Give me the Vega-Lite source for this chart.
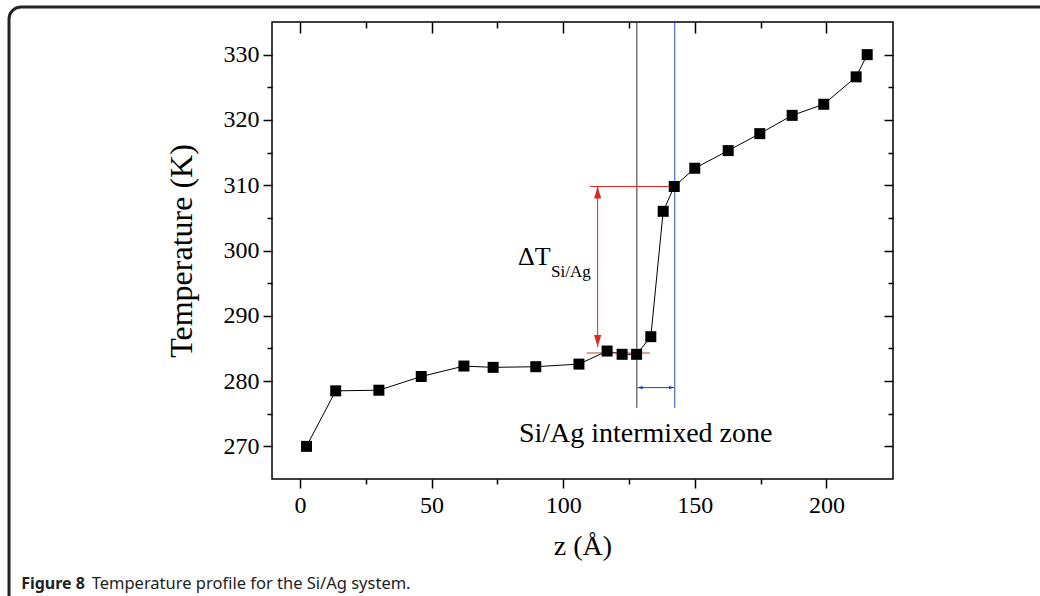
{
  "$schema": "https://vega.github.io/schema/vega-lite/v6.json",
  "width": 621,
  "height": 457,
  "autosize": {"type": "none"},
  "padding": {"left": 272, "top": 22, "right": 147, "bottom": 117},
  "background": "white",
  "data": {"values": [{"note": "annotation"}]},
  "config": {
    "view": {"stroke": "black", "strokeWidth": 1.5},
    "axis": {
      "grid": false,
      "domain": false,
      "tickColor": "black",
      "tickWidth": 1.5,
      "labelFont": "Liberation Serif",
      "labelFontSize": 24,
      "labelColor": "black",
      "titleFont": "Liberation Serif",
      "titleFontWeight": "normal",
      "titleColor": "black"
    },
    "text": {"font": "Liberation Serif", "color": "black"}
  },
  "datasets": {
    "profile": [
      {"z": 2.5, "T": 270.0},
      {"z": 13.6, "T": 278.5},
      {"z": 30.0, "T": 278.6},
      {"z": 46.1, "T": 280.7},
      {"z": 62.3, "T": 282.3},
      {"z": 73.4, "T": 282.1},
      {"z": 89.6, "T": 282.2},
      {"z": 106.0, "T": 282.6},
      {"z": 116.7, "T": 284.6},
      {"z": 122.4, "T": 284.1},
      {"z": 127.9, "T": 284.1},
      {"z": 133.3, "T": 286.8},
      {"z": 138.0, "T": 306.0},
      {"z": 142.2, "T": 309.8},
      {"z": 150.0, "T": 312.6},
      {"z": 162.7, "T": 315.3},
      {"z": 174.7, "T": 317.9},
      {"z": 187.0, "T": 320.7},
      {"z": 199.0, "T": 322.4},
      {"z": 211.3, "T": 326.6},
      {"z": 215.5, "T": 330.0}
    ]
  },
  "resolve": {"axis": {"x": "independent", "y": "independent"}},
  "layer": [
    {
      "mark": {"type": "rect", "filled": false, "fill": null, "stroke": "#222222", "strokeWidth": 3, "cornerRadius": 12, "clip": false},
      "encoding": {
        "x": {"datum": -110.5, "type": "quantitative", "axis": null},
        "x2": {"datum": 290},
        "y": {"datum": 337.3, "type": "quantitative", "axis": null},
        "y2": {"datum": 240}
      }
    },
    {
      "data": {"name": "profile"},
      "mark": {"type": "line", "color": "black", "strokeWidth": 1},
      "encoding": {
        "x": {
          "field": "z", "type": "quantitative",
          "scale": {"domain": [-10.6, 225.3], "nice": false, "zero": false},
          "axis": {"orient": "bottom", "values": [0, 50, 100, 150, 200], "tickSize": 9, "labelPadding": 5, "title": "z (Å)", "titleFontSize": 28, "titlePadding": 15}
        },
        "y": {
          "field": "T", "type": "quantitative",
          "scale": {"domain": [265, 335], "nice": false, "zero": false},
          "axis": {"orient": "left", "values": [270, 280, 290, 300, 310, 320, 330], "tickSize": 9, "labelPadding": 4, "title": "Temperature (K)", "titleFontSize": 32, "titlePadding": 25}
        }
      }
    },
    {
      "mark": {"type": "rule", "color": "#333333", "strokeWidth": 1},
      "encoding": {
        "x": {"datum": 128.0, "type": "quantitative", "axis": {"orient": "bottom", "values": [25, 75, 125, 175], "tickSize": 5, "labels": false, "title": null}},
        "y": {"datum": 335, "type": "quantitative", "axis": {"orient": "left", "values": [275, 285, 295, 305, 315, 325], "tickSize": 5, "labels": false, "title": null}},
        "y2": {"datum": 275.9}
      }
    },
    {
      "mark": {"type": "rule", "color": "#3344cc", "strokeWidth": 1},
      "encoding": {
        "x": {"datum": 142.4, "type": "quantitative", "axis": {"orient": "top", "values": [25, 75, 125, 175], "tickSize": -6, "labels": false, "title": null}},
        "y": {"datum": 335, "type": "quantitative", "axis": {"orient": "right", "values": [275, 285, 295, 305, 315, 325], "tickSize": -5, "labels": false, "title": null}},
        "y2": {"datum": 275.9}
      }
    },
    {
      "mark": {"type": "rule", "color": "#e02424", "strokeWidth": 1},
      "encoding": {
        "x": {"datum": 110.1, "type": "quantitative", "axis": {"orient": "top", "values": [0, 50, 100, 150, 200], "tickSize": -11, "labels": false, "title": null}},
        "x2": {"datum": 142.4},
        "y": {"datum": 309.8, "type": "quantitative", "axis": {"orient": "right", "values": [270, 280, 290, 300, 310, 320, 330], "tickSize": -9, "labels": false, "title": null}}
      }
    },
    {
      "mark": {"type": "rule", "color": "#e02424", "strokeWidth": 1},
      "encoding": {
        "x": {"datum": 113.1, "type": "quantitative", "axis": null},
        "y": {"datum": 309.8, "type": "quantitative", "axis": null},
        "y2": {"datum": 285.2}
      }
    },
    {
      "mark": {"type": "point", "filled": true, "color": "#e02424", "opacity": 1, "shape": "M0,0L0.6,2L-0.6,2Z", "size": 144, "strokeWidth": 0},
      "encoding": {
        "x": {"datum": 113.1, "type": "quantitative", "axis": null},
        "y": {"datum": 309.8, "type": "quantitative", "axis": null}
      }
    },
    {
      "mark": {"type": "point", "filled": true, "color": "#e02424", "opacity": 1, "shape": "M0,0L0.6,-2L-0.6,-2Z", "size": 144, "strokeWidth": 0},
      "encoding": {
        "x": {"datum": 113.1, "type": "quantitative", "axis": null},
        "y": {"datum": 285.2, "type": "quantitative", "axis": null}
      }
    },
    {
      "mark": {"type": "rule", "color": "#b04a3a", "strokeWidth": 1.2},
      "encoding": {
        "x": {"datum": 108.9, "type": "quantitative", "axis": null},
        "x2": {"datum": 132.9},
        "y": {"datum": 284.3, "type": "quantitative", "axis": null}
      }
    },
    {
      "mark": {"type": "rule", "color": "#2233cc", "strokeWidth": 1},
      "encoding": {
        "x": {"datum": 128.3, "type": "quantitative", "axis": null},
        "x2": {"datum": 142.1},
        "y": {"datum": 279.0, "type": "quantitative", "axis": null}
      }
    },
    {
      "mark": {"type": "point", "filled": true, "color": "#2233cc", "opacity": 1, "shape": "M0,0L2,-0.65L2,0.65Z", "size": 25, "strokeWidth": 0},
      "encoding": {
        "x": {"datum": 128.3, "type": "quantitative", "axis": null},
        "y": {"datum": 279.0, "type": "quantitative", "axis": null}
      }
    },
    {
      "mark": {"type": "point", "filled": true, "color": "#2233cc", "opacity": 1, "shape": "M0,0L-2,-0.65L-2,0.65Z", "size": 25, "strokeWidth": 0},
      "encoding": {
        "x": {"datum": 142.1, "type": "quantitative", "axis": null},
        "y": {"datum": 279.0, "type": "quantitative", "axis": null}
      }
    },
    {
      "data": {"name": "profile"},
      "mark": {"type": "point", "shape": "square", "filled": true, "color": "black", "opacity": 1, "size": 121, "strokeWidth": 0},
      "encoding": {
        "x": {"field": "z", "type": "quantitative", "axis": null},
        "y": {"field": "T", "type": "quantitative", "axis": null}
      }
    },
    {
      "mark": {"type": "text", "text": "ΔT", "fontSize": 26, "align": "left", "baseline": "alphabetic"},
      "encoding": {
        "x": {"datum": 82.85, "type": "quantitative", "axis": null},
        "y": {"datum": 297.8, "type": "quantitative", "axis": null}
      }
    },
    {
      "mark": {"type": "text", "text": "Si/Ag", "fontSize": 17, "align": "left", "baseline": "alphabetic"},
      "encoding": {
        "x": {"datum": 95.4, "type": "quantitative", "axis": null},
        "y": {"datum": 295.9, "type": "quantitative", "axis": null}
      }
    },
    {
      "mark": {"type": "text", "text": "Si/Ag intermixed zone", "fontSize": 28, "align": "left", "baseline": "alphabetic"},
      "encoding": {
        "x": {"datum": 83.2, "type": "quantitative", "axis": null},
        "y": {"datum": 270.7, "type": "quantitative", "axis": null}
      }
    },
    {
      "mark": {"type": "text", "text": "Figure 8", "font": "Noto Sans", "fontWeight": "bold", "fontSize": 16, "align": "left", "baseline": "alphabetic", "color": "#222222"},
      "encoding": {
        "x": {"datum": -105.9, "type": "quantitative", "axis": null},
        "y": {"datum": 248.2, "type": "quantitative", "axis": null}
      }
    },
    {
      "mark": {"type": "text", "text": "Temperature profile for the Si/Ag system.", "font": "Noto Sans", "fontSize": 16.5, "align": "left", "baseline": "alphabetic", "color": "#222222"},
      "encoding": {
        "x": {"datum": -79.1, "type": "quantitative", "axis": null},
        "y": {"datum": 248.2, "type": "quantitative", "axis": null}
      }
    }
  ]
}
